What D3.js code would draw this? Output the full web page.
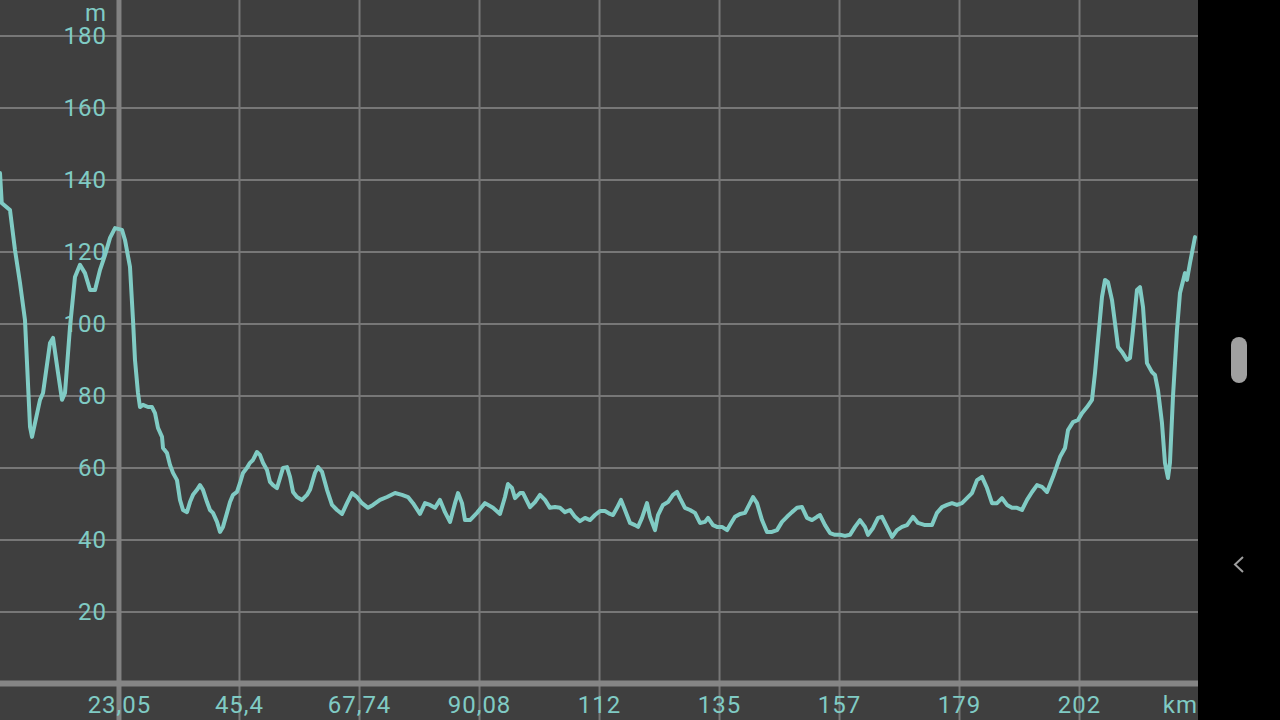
<!DOCTYPE html>
<html>
<head>
<meta charset="utf-8">
<script src="https://cdn.jsdelivr.net/npm/d3@7"></script>
<style>
  html, body { margin: 0; padding: 0; background: #000; }
  svg { display: block; font-family: Roboto, "Noto Sans", sans-serif; }
</style>
</head>
<body>
<svg id="chart" width="1280" height="720"></svg>
<script>
'use strict';

// distance along the route (km)
var distKm = [
  0.90, 1.22, 2.76, 3.69, 4.62, 5.55, 6.49, 6.86, 8.35, 8.91,
  10.21, 10.77, 11.70, 12.44, 13.00, 13.93, 14.86, 15.79, 16.72, 17.66,
  18.59, 19.52, 20.45, 21.38, 22.31, 23.61, 24.17, 25.10, 25.66, 26.03,
  26.59, 26.96, 27.52, 28.45, 29.20, 29.76, 30.31, 31.06, 31.25, 31.99,
  32.55, 33.11, 33.85, 34.41, 34.97, 35.71, 36.27, 36.83, 37.57, 38.13,
  38.69, 39.44, 39.99, 40.55, 41.30, 41.86, 42.41, 43.16, 43.72, 44.28,
  45.02, 45.58, 46.14, 46.88, 47.44, 48.00, 48.74, 49.30, 49.86, 50.61,
  51.17, 51.72, 52.47, 53.03, 53.59, 54.33, 54.89, 55.45, 56.19, 57.12,
  58.05, 58.61, 59.54, 60.10, 60.85, 61.78, 62.71, 63.64, 64.57, 65.50,
  66.43, 67.36, 68.29, 69.41, 70.34, 71.64, 72.95, 74.44, 75.74, 76.86,
  77.79, 79.09, 80.02, 80.95, 81.88, 82.81, 83.74, 84.68, 85.61, 86.17,
  86.91, 87.47, 88.40, 89.70, 91.19, 92.68, 93.98, 94.91, 95.47, 96.22,
  96.78, 97.71, 98.27, 99.57, 100.50, 101.43, 102.36, 103.29, 104.22, 105.15,
  106.08, 107.02, 107.95, 108.88, 109.81, 110.74, 111.67, 112.60, 113.53, 114.46,
  115.02, 115.77, 116.51, 117.25, 118.19, 119.12, 119.68, 120.42, 121.35, 121.91,
  122.84, 123.40, 124.33, 125.26, 126.19, 126.94, 127.49, 128.42, 129.36, 130.29,
  131.22, 132.15, 132.71, 133.64, 134.38, 135.31, 136.25, 136.80, 137.73, 138.66,
  139.60, 140.53, 141.09, 141.83, 142.76, 143.69, 144.62, 145.55, 146.48, 147.41,
  148.34, 149.28, 150.21, 151.14, 152.07, 153.00, 153.56, 154.49, 155.42, 156.35,
  157.28, 158.21, 159.14, 160.07, 161.00, 161.93, 162.49, 163.43, 164.36, 165.10,
  166.03, 166.96, 167.89, 168.83, 169.76, 170.87, 171.80, 173.11, 174.41, 175.34,
  176.27, 177.20, 178.13, 179.06, 179.99, 180.92, 181.86, 182.79, 183.72, 184.65,
  185.58, 186.51, 187.44, 188.37, 189.30, 190.23, 191.16, 192.10, 193.03, 193.96,
  194.89, 195.82, 196.94, 198.24, 199.17, 199.73, 200.66, 201.59, 202.34, 203.27,
  204.20, 204.76, 205.31, 206.06, 206.62, 207.17, 207.92, 208.48, 209.04, 209.78,
  210.71, 211.27, 211.83, 212.57, 213.13, 213.69, 214.43, 215.36, 215.92, 216.48,
  217.22, 217.78, 218.34, 218.71, 219.27, 220.02, 220.58, 221.51, 221.88, 222.44,
  223.37
];

// elevation (m)
var elevM = [
  141.8, 133.5, 131.5, 120.4, 111.3, 101.0, 71.3, 68.5, 78.8, 80.7,
  94.6, 96.0, 86.3, 78.8, 80.7, 99.0, 112.9, 116.3, 114.0, 109.3,
  109.3, 114.9, 119.0, 123.8, 126.5, 126.0, 123.2, 115.7, 101.0, 89.9,
  80.7, 76.8, 77.4, 76.8, 76.8, 75.1, 71.0, 68.5, 65.4, 64.0,
  60.7, 58.5, 56.5, 51.0, 48.2, 47.6, 50.4, 52.4, 53.8, 55.1,
  53.8, 50.4, 48.2, 47.4, 44.9, 42.1, 43.5, 47.4, 50.4, 52.4,
  53.2, 55.7, 58.5, 59.9, 61.3, 62.1, 64.3, 63.5, 61.3, 59.3,
  56.0, 55.1, 54.3, 57.1, 59.9, 60.1, 57.4, 53.2, 51.8, 51.0,
  52.4, 53.8, 58.5, 60.1, 58.8, 53.8, 49.6, 48.2, 47.1, 50.1,
  52.9, 51.8, 50.1, 48.8, 49.6, 51.0, 51.8, 52.9, 52.4, 51.8,
  50.1, 47.1, 50.1, 49.6, 48.8, 51.0, 47.6, 44.9, 50.1, 52.9,
  50.1, 45.4, 45.4, 47.4, 50.1, 48.8, 47.1, 51.8, 55.4, 54.3,
  51.5, 52.9, 52.9, 49.0, 50.4, 52.4, 51.0, 48.8, 49.0, 48.8,
  47.6, 48.2, 46.3, 45.1, 46.0, 45.4, 46.8, 47.9, 47.9, 47.1,
  46.8, 48.8, 51.0, 48.2, 44.6, 44.0, 43.5, 46.0, 50.1, 46.3,
  42.6, 46.8, 49.6, 50.4, 52.4, 53.2, 51.5, 48.8, 48.2, 47.4,
  44.6, 44.9, 46.0, 44.0, 43.5, 43.5, 42.6, 44.0, 46.3, 47.1,
  47.4, 50.1, 51.8, 50.1, 45.4, 42.1, 42.1, 42.6, 44.9, 46.3,
  47.6, 48.8, 49.0, 46.0, 45.4, 46.3, 46.8, 44.0, 41.8, 41.3,
  41.3, 41.0, 41.3, 43.5, 45.4, 43.5, 41.3, 43.2, 46.0, 46.3,
  43.5, 40.7, 42.6, 43.5, 44.0, 46.3, 44.6, 44.0, 44.0, 47.4,
  49.0, 49.6, 50.1, 49.6, 50.1, 51.5, 52.9, 56.5, 57.4, 54.3,
  50.1, 50.1, 51.5, 49.6, 48.8, 48.8, 48.2, 51.0, 53.2, 55.1,
  54.6, 53.2, 57.4, 62.9, 65.4, 70.4, 72.6, 73.2, 75.1, 76.8,
  78.8, 86.3, 95.4, 107.4, 112.1, 111.5, 106.5, 100.1, 93.5, 92.1,
  89.9, 90.4, 98.2, 109.3, 110.1, 104.6, 89.0, 86.5, 85.7, 81.5,
  72.4, 61.3, 57.1, 61.3, 79.6, 98.2, 108.5, 114.0, 112.1, 116.8,
  124.0
];

var yTicks = [20, 40, 60, 80, 100, 120, 140, 160, 180];
var xTickValues = [23.05, 45.39, 67.74, 90.08, 112.42, 134.76, 157.1, 179.44, 201.78];
var xTickLabels = ['23,05', '45,4', '67,74', '90,08', '112', '135', '157', '179', '202'];

var W = 1280, H = 720;
var plotW = 1198;          // dark panel, black nav strip on the right
var lineColor = '#80cbc4';
var textColor = '#80cbc4';

var svg = d3.select('#chart');

var x = d3.scaleLinear().domain([0.9, 223.93]).range([0, plotW]);
var y = d3.scaleLinear().domain([0, 180]).range([683.5, 35.5]);

function labelStyle(sel) {
  sel.attr('fill', textColor)
    .style('font-size', '24px')
    .style('font-family', 'Roboto')
    .style('letter-spacing', '1px');
}

// backgrounds
svg.append('rect').attr('x', 0).attr('y', 0).attr('width', W).attr('height', H).attr('fill', '#000');
svg.append('rect').attr('x', 0).attr('y', 0).attr('width', plotW).attr('height', H).attr('fill', '#3f3f3f');

// horizontal grid
svg.append('g')
  .call(d3.axisRight(y).tickValues(yTicks).tickSize(plotW).tickFormat(''))
  .call(function(g) {
    g.select('.domain').remove();
    g.selectAll('.tick line').attr('stroke', '#777').attr('stroke-width', 2);
  });

// vertical grid
svg.append('g')
  .attr('transform', 'translate(0,' + H + ')')
  .call(d3.axisTop(x).tickValues(xTickValues).tickSize(H).tickFormat(''))
  .call(function(g) {
    g.select('.domain').remove();
    g.selectAll('.tick line').attr('stroke', '#777').attr('stroke-width', 2);
  });

// thick left axis line and bottom baseline
svg.append('line')
  .attr('x1', x(xTickValues[0])).attr('x2', x(xTickValues[0]))
  .attr('y1', 0).attr('y2', H)
  .attr('stroke', '#828282').attr('stroke-width', 5);

svg.append('line')
  .attr('x1', 0).attr('x2', plotW)
  .attr('y1', y(0)).attr('y2', y(0))
  .attr('stroke', '#858585').attr('stroke-width', 6);

// y labels
svg.append('g')
  .attr('transform', 'translate(107,0)')
  .call(d3.axisLeft(y).tickValues(yTicks).tickSize(0).tickPadding(0))
  .call(function(g) {
    g.select('.domain').remove();
    g.selectAll('text').call(labelStyle);
  });

svg.append('text')
  .attr('x', 107).attr('y', 21)
  .attr('text-anchor', 'end')
  .call(labelStyle)
  .text('m');

// x labels
svg.append('g')
  .attr('transform', 'translate(0,695.5)')
  .call(d3.axisBottom(x).tickValues(xTickValues).tickSize(0).tickPadding(0)
    .tickFormat(function(d, i) { return xTickLabels[i]; }))
  .call(function(g) {
    g.select('.domain').remove();
    g.selectAll('text').call(labelStyle);
  });

svg.append('text')
  .attr('x', 1198).attr('y', 712.5)
  .attr('text-anchor', 'end')
  .call(labelStyle)
  .text('km');

// elevation profile
var line = d3.line()
  .x(function(d, i) { return x(distKm[i]); })
  .y(function(d) { return y(d); });

svg.append('path')
  .datum(elevM)
  .attr('d', line)
  .attr('fill', 'none')
  .attr('stroke', lineColor)
  .attr('stroke-width', 4)
  .attr('stroke-linejoin', 'round')
  .attr('stroke-linecap', 'round');

// clip anything spilling into the black strip
svg.append('rect').attr('x', plotW).attr('y', 0).attr('width', W - plotW).attr('height', H).attr('fill', '#000');

// navigation strip: scroll pill and back chevron
svg.append('rect')
  .attr('x', 1231).attr('y', 337).attr('width', 16).attr('height', 46).attr('rx', 8)
  .attr('fill', '#a0a0a0');

svg.append('path')
  .attr('d', 'M1243,557 L1235,564.5 L1243,572')
  .attr('fill', 'none')
  .attr('stroke', '#9e9e9e')
  .attr('stroke-width', 2);
</script>
</body>
</html>
